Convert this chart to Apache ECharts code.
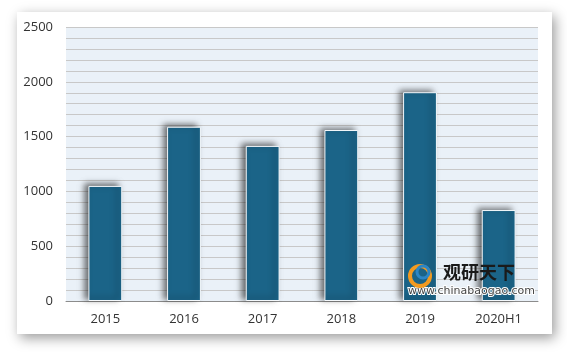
<!DOCTYPE html>
<html>
<head>
<meta charset="utf-8">
<script src="https://cdn.jsdelivr.net/npm/echarts@6/dist/echarts.min.js"></script>
<style>
  html, body { margin: 0; padding: 0; background: #fff; }
  #chart { width: 567px; height: 352px; }
</style>
</head>
<body>
<div id="chart"></div>
<script>
// data
const years = ['2015', '2016', '2017', '2018', '2019', '2020H1'];
const values = [1050, 1590, 1415, 1560, 1905, 830];

const chart = echarts.init(document.getElementById('chart'));

const option = {
  backgroundColor: '#fff',
  animation: false,
  graphic: [
    {
      type: 'rect',
      z: -10,
      shape: { x: 17, y: 12, width: 535, height: 322 },
      style: { fill: '#fff', shadowColor: 'rgba(0,0,0,0.4)', shadowBlur: 12, shadowOffsetX: 3, shadowOffsetY: 4 }
    },
    {
      type: 'text',
      z: 50,
      left: 443, top: 263,
      style: { text: '观研天下', fill: '#1a1a1a', font: 'bold 18px "Noto Sans CJK SC"' }
    },
    {
      type: 'text',
      z: 50,
      left: 407, top: 285,
      style: { text: 'www.chinabaogao.com', fill: '#444', font: '11px "DejaVu Sans"', stroke: '#fff', lineWidth: 2 }
    },
    {
      type: 'circle',
      z: 50,
      shape: { cx: 420, cy: 276, r: 10 },
      style: { fill: 'none', stroke: '#F39A1F', lineWidth: 4 }
    },
    {
      type: 'circle',
      z: 51,
      shape: { cx: 423, cy: 272, r: 6 },
      style: { fill: 'none', stroke: '#2C86C6', lineWidth: 3 }
    }
  ],
  grid: {
    left: 66, right: 29, top: 27, bottom: 51,
    show: true,
    backgroundColor: '#EAF1F8',
    borderWidth: 0
  },
  xAxis: {
    type: 'category',
    data: years,
    axisLine: { lineStyle: { color: '#8c8c8c', width: 1 } },
    axisTick: { show: false },
    axisLabel: { color: '#333', fontSize: 13, margin: 12, fontFamily: 'Open Sans' }
  },
  yAxis: {
    type: 'value',
    min: 0,
    max: 2500,
    interval: 500,
    axisLine: { show: false },
    axisTick: { show: false },
    axisLabel: {
      color: '#333', fontSize: 13, margin: 13, fontFamily: 'Open Sans',
      formatter: v => String(v)
    },
    splitLine: { lineStyle: { color: '#c8c8c8', width: 1 } },
    minorTick: { show: false, splitNumber: 5 },
    minorSplitLine: { show: true, lineStyle: { color: '#c8c8c8', width: 1 } }
  },
  series: [
    {
      type: 'bar',
      data: values,
      barWidth: '43%',
      itemStyle: {
        color: '#1B6488',
        borderColor: '#f4f8fb',
        borderWidth: 1,
        shadowColor: 'rgba(0,0,0,0.55)',
        shadowBlur: 6,
        shadowOffsetX: -4,
        shadowOffsetY: -2
      }
    }
  ]
};

chart.setOption(option);
</script>
</body>
</html>
